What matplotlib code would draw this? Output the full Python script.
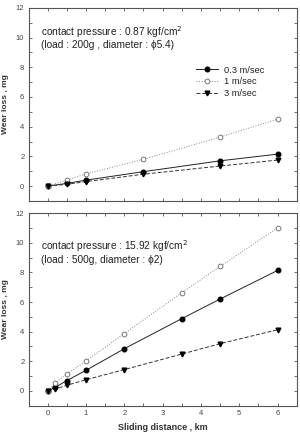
import matplotlib
matplotlib.use("Agg")
import matplotlib.pyplot as plt
from matplotlib.ticker import MultipleLocator

plt.rcParams['font.family'] = ['Liberation Sans', 'DejaVu Sans']

# Top panel (contact pressure 0.87)
top_x = [0, 0.5, 1, 2.5, 4.5, 6]
top_03 = [0.0, 0.18, 0.4, 0.97, 1.7, 2.15]
top_1 = [0.0, 0.4, 0.82, 1.8, 3.3, 4.5]
top_3 = [0.0, 0.12, 0.3, 0.8, 1.35, 1.75]

# Bottom panel (contact pressure 15.92)
bot_x = [0, 0.2, 0.5, 1, 2, 3.5, 4.5, 6]
bot_03 = [0.0, 0.25, 0.7, 1.39, 2.85, 4.88, 6.2, 8.13]
bot_1 = [0.0, 0.54, 1.15, 2.02, 3.87, 6.63, 8.4, 11.0]
bot_3 = [0.0, 0.13, 0.38, 0.76, 1.44, 2.49, 3.19, 4.13]

labels = ["0.3 m/sec", "1 m/sec", "3 m/sec"]
xticks = [0, 1, 2, 3, 4, 5, 6]
yticks = [0, 2, 4, 6, 8, 10, 12]

fig = plt.figure(figsize=(3.0, 4.34), dpi=100)
ax1 = fig.add_axes([0.095, 0.537, 0.894, 0.445])
ax2 = fig.add_axes([0.095, 0.065, 0.894, 0.444])

spine_col = '#555555'
txt_col = '#333333'

def style(ax, show_xlabels):
    ax.set_xlim(-0.5, 6.5)
    ax.set_ylim(-1, 12)
    ax.set_xticks(xticks)
    ax.set_yticks(yticks)
    ax.xaxis.set_minor_locator(MultipleLocator(0.5))
    ax.yaxis.set_minor_locator(MultipleLocator(1))
    ax.tick_params(which='both', direction='in', top=True, right=True,
                   length=2.5, width=0.6, color=spine_col,
                   labelsize=5.5, labelcolor='#444444', pad=3)
    for s in ax.spines.values():
        s.set_color(spine_col)
        s.set_linewidth(0.8)
    if not show_xlabels:
        ax.tick_params(labelbottom=False)
    ax.set_ylabel("Wear loss , mg", fontsize=6, fontweight='bold', color=txt_col, labelpad=5)

def plot_series(ax, x, a, b, c, legend):
    l1, = ax.plot(x, a, '-', color='#222222', lw=0.7, marker='o', ms=3.3,
                  mfc='black', mec='black', label=labels[0])
    l2, = ax.plot(x, b, ':', color='#888888', lw=0.7, marker='o', ms=3.4,
                  mfc='white', mec='#777777', mew=0.7, label=labels[1])
    l3, = ax.plot(x, c, '--', color='#333333', lw=0.7, marker='v', ms=3.4,
                  mfc='black', mec='black', dashes=(4, 2), label=labels[2])
    if legend:
        ax.legend(handles=[l1, l2, l3], loc='upper left', bbox_to_anchor=(0.6, 0.735),
                  frameon=False, fontsize=6.7, handlelength=2.4, handletextpad=0.6,
                  labelspacing=0.3, borderpad=0.2, labelcolor='#222222')

style(ax1, False)
style(ax2, True)
plot_series(ax1, top_x, top_03, top_1, top_3, True)
plot_series(ax2, bot_x, bot_03, bot_1, bot_3, False)

fs = 7.3
ax1.text(0.045, 0.875, "contact pressure : 0.87 kgf/cm$^2$", transform=ax1.transAxes,
         fontsize=fs, color='#222222', va='center')
ax1.text(0.045, 0.805, "(load : 200g , diameter : \u03d55.4)", transform=ax1.transAxes,
         fontsize=fs, color='#222222', va='center')
ax2.text(0.045, 0.828, "contact pressure : 15.92 kgf/cm$^2$", transform=ax2.transAxes,
         fontsize=fs, color='#222222', va='center')
ax2.text(0.045, 0.756, "(load : 500g, diameter : \u03d52)", transform=ax2.transAxes,
         fontsize=fs, color='#222222', va='center')

ax2.set_xlabel("Sliding distance , km", fontsize=6.5, fontweight='bold', color=txt_col, labelpad=4.5)

fig.savefig("out.png", dpi=100)
